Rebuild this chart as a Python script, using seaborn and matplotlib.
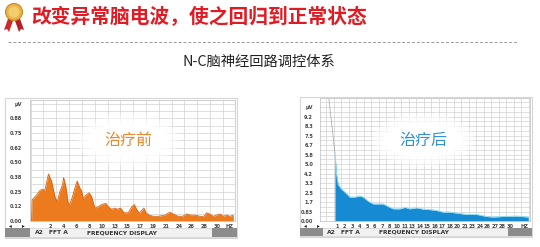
import numpy as np
import pandas as pd
import matplotlib
matplotlib.use("Agg")
import matplotlib.pyplot as plt
from matplotlib.patches import Ellipse, Rectangle, Polygon, Circle
import seaborn as sns

# ---------------- data ----------------
title = "改变异常脑电波，使之回归到正常状态"
subtitle = "N-C脑神经回路调控体系"
label_before = "治疗前"
label_after = "治疗后"
bar_texts = ["A2", "FFT A", "FREQUENCY DISPLAY"]

before_xlabels = ["2", "4", "6", "8", "10", "13", "15", "17", "19", "21", "24", "26", "28", "30", "HZ"]
before_ylabels = ["0.00", "0.12", "0.25", "0.38", "0.50", "0.62", "0.75", "0.88", "μV"]
after_xlabels = ["1", "2", "3", "4", "5", "6", "7", "8", "10", "11", "13", "14", "15", "16",
                 "17", "18", "20", "21", "23", "24", "26", "27", "28", "30"]
after_ylabels = ["0.00", "0.83", "1.7", "2.5", "3.3", "4.2", "5.0", "5.8", "6.7", "7.5", "8.3", "9.2", "μV"]

before_pos = [-0.48, -0.43, -0.35, -0.09, 0.17, 0.38, 0.56, 0.84, 1.08, 1.34,
              1.52, 1.73, 1.94, 2.02, 2.20, 2.38, 2.51, 2.72, 2.90, 3.08,
              3.29, 3.42, 3.55, 3.76, 4.02, 4.20, 4.46, 4.72, 4.98, 5.32,
              5.51, 5.77, 6.03, 6.21, 6.47, 6.73, 7.07, 7.33, 7.54, 7.72,
              7.93, 8.11, 8.29, 8.45, 8.71, 9.02, 9.41, 9.93, 10.32, 10.58,
              10.97, 11.31, 11.63, 11.94, 12.28, 12.67, 12.98, 13.19, 13.40, 13.71,
              13.97, 14.23, 14.49, 14.75, 15.01, 15.27]
before_uv = [0.00, 0.18, 0.19, 0.22, 0.26, 0.27, 0.26, 0.40, 0.34, 0.21,
             0.16, 0.25, 0.31, 0.37, 0.29, 0.15, 0.14, 0.21, 0.28, 0.34,
             0.28, 0.26, 0.19, 0.22, 0.24, 0.21, 0.11, 0.12, 0.14, 0.15,
             0.12, 0.10, 0.11, 0.10, 0.11, 0.07, 0.07, 0.12, 0.14, 0.10,
             0.065, 0.09, 0.11, 0.07, 0.05, 0.04, 0.04, 0.05, 0.075, 0.06,
             0.04, 0.04, 0.06, 0.05, 0.05, 0.04, 0.04, 0.07, 0.06, 0.04,
             0.05, 0.06, 0.04, 0.05, 0.04, 0.05]

after_pos = [-0.31, -0.09, 0.13, 0.58, 1.24, 1.69, 2.36, 3.02, 3.47, 4.13,
             4.80, 5.47, 6.13, 7.02, 7.47, 8.36, 9.02, 9.69, 10.58, 11.47,
             12.36, 13.24, 14.13, 15.02, 15.91, 17.24, 18.58, 19.91, 20.80, 22.13,
             23.91, 25.47]
after_uv = [6.0, 4.1, 3.2, 2.8, 2.4, 2.1, 2.1, 2.2, 2.1, 1.74,
            1.5, 1.5, 1.5, 1.2, 1.07, 1.07, 1.2, 1.07, 1.16, 1.04,
            1.0, 0.93, 0.78, 0.78, 0.7, 0.58, 0.58, 0.4, 0.35, 0.4,
            0.43, 0.35]
after_lead_pos = [-1.2, -0.31]
after_lead_uv = [11.2, 6.0]

# ---------------- style ----------------
sns.set_theme(style="white")
plt.rcParams["font.family"] = ["Noto Sans CJK SC", "DejaVu Sans"]

W, H = 540, 247
fig = plt.figure(figsize=(W / 100, H / 100), dpi=100)
fig.patch.set_facecolor("white")


def rect(x0, y0, x1, y1):
    return [x0 / W, 1 - y1 / H, (x1 - x0) / W, (y1 - y0) / H]


# background decoration layer (pixel coordinates)
deco = fig.add_axes([0, 0, 1, 1], zorder=0, label="deco")
deco.set_xlim(0, W)
deco.set_ylim(H, 0)
deco.axis("off")

# medal icon
deco.add_patch(Polygon([[9, 16], [14, 18], [9, 32], [7, 29], [4, 30]], closed=True,
                       facecolor="#cf2a2a", edgecolor="none"))
deco.add_patch(Polygon([[19, 16], [14, 18], [19, 32], [21, 29], [24, 30]], closed=True,
                       facecolor="#b81f22", edgecolor="none"))
deco.add_patch(Circle((14, 12), 8.5, facecolor="#e9b44c", edgecolor="#c98b22", lw=0.8))
deco.add_patch(Circle((14, 12), 5.5, facecolor="#f3cd6e", edgecolor="none"))

deco.text(31, 17, title, ha="left", va="center", fontsize=14.2, fontweight="bold",
          color="#e01b24")
deco.plot([8, 517], [42, 42], color="#9a9a9a", lw=0.7, ls=(0, (3, 2)))
deco.text(259, 62, subtitle, ha="center", va="center", fontsize=10.3, color="#222222")

# panel frames and bottom bars
for (x0, y0, x1, y1) in [(5, 98, 237, 238), (300, 97, 532, 237)]:
    deco.add_patch(Rectangle((x0, y0), x1 - x0, y1 - y0, facecolor="white",
                             edgecolor="#d6d6d6", lw=0.8))
bars = [(5, 228, 237, 237, 30, 212, 35), (300, 228, 532, 236, 323, 508, 327)]
for (x0, y0, x1, y1, lb, rb, tx) in bars:
    deco.add_patch(Rectangle((x0, y0), x1 - x0, y1 - y0, facecolor="#f1f1f1",
                             edgecolor="#cfcfcf", lw=0.5))
    deco.add_patch(Rectangle((x0, y0), lb - x0, y1 - y0, facecolor="#8c8c8c", edgecolor="none"))
    deco.add_patch(Rectangle((rb, y0), x1 - rb, y1 - y0, facecolor="#8c8c8c", edgecolor="none"))
    yc = (y0 + y1) / 2
    deco.text(tx, yc, bar_texts[0], ha="left", va="center", fontsize=4.3, fontweight="bold",
              color="#333333", family="DejaVu Sans")
    deco.text(tx + 14, yc, bar_texts[1], ha="left", va="center", fontsize=4.3,
              fontweight="bold", color="#333333", family="DejaVu Sans")
    deco.text(tx + 52, yc, bar_texts[2], ha="left", va="center", fontsize=4.3,
              fontweight="bold", color="#333333", family="DejaVu Sans")
    deco.text(x0 + 5, 226, "◂", ha="center", va="center", fontsize=4, color="#222222",
              family="DejaVu Sans")
    deco.text(x0 + 18, 226, "▸", ha="center", va="center", fontsize=4, color="#222222",
              family="DejaVu Sans")


def style_panel(ax, xlabels, xpos, ylabels, ypos, xminor, yminor, ypad):
    ax.set_facecolor("white")
    for s in ax.spines.values():
        s.set_color("#c8c8c8")
        s.set_linewidth(0.6)
    ax.set_xticks(xpos)
    ax.set_xticklabels(xlabels)
    ax.set_yticks(ypos)
    ax.set_yticklabels(ylabels)
    ax.set_xticks(xminor, minor=True)
    ax.set_yticks(yminor, minor=True)
    ax.grid(False)
    ax.grid(which="minor", axis="x", color="#d2d2d2", lw=0.5)
    ax.grid(which="both", axis="y", color="#d2d2d2", lw=0.5)
    ax.tick_params(which="both", length=0)
    ax.tick_params(axis="x", labelsize=3.6, colors="#444444", pad=2)
    ax.tick_params(axis="y", labelsize=3.6, colors="#444444", pad=ypad)
    for t in ax.get_xticklabels() + ax.get_yticklabels():
        t.set_fontweight("bold")
        t.set_family("DejaVu Sans")
    ax.set_xlabel("")
    ax.set_ylabel("")


# ---- left panel: before ----
axL = fig.add_axes(rect(30, 100, 235, 221), zorder=1, label="before")
dfb = pd.DataFrame({"pos": before_pos, "uv": before_uv})
sns.lineplot(data=dfb, x="pos", y="uv", ax=axL, color="#d7630f", lw=0.6, sort=False)
axL.fill_between(dfb["pos"], 0, dfb["uv"], color="#ec7b1d", lw=0)
axL.set_xlim(-0.6, 15.4)
axL.set_ylim(0, 1.03)
style_panel(axL, before_xlabels, list(range(1, len(before_xlabels) + 1)),
            before_ylabels, [0.125 * i for i in range(len(before_ylabels))],
            np.arange(-0.55, 15.4, 1.0), np.arange(0.0625, 1.03, 0.125), 5.6)

# ---- right panel: after ----
axR = fig.add_axes(rect(320, 98, 530, 221), zorder=1, label="after")
dfa = pd.DataFrame({"pos": after_pos, "uv": after_uv})
axR.fill_between(dfa["pos"], 0, dfa["uv"], color="#168bd3", lw=0)
sns.lineplot(data=dfa, x="pos", y="uv", ax=axR, color="#8fdcf2", lw=0.7, sort=False)
sns.lineplot(x=after_lead_pos, y=after_lead_uv, ax=axR, color="#9aa4aa", lw=0.5)
axR.set_xlim(-2.3, 25.7)
axR.set_ylim(0, 10.8)
after_xpos = list(range(len(after_xlabels))) + [25]
style_panel(axR, after_xlabels + ["HZ"], after_xpos,
            after_ylabels, [10 / 12 * i for i in range(len(after_ylabels))],
            np.arange(-1.5, 25.7, 1.0), np.arange(10 / 24, 10.8, 10 / 12), 5.0)

# ---- cloud labels (top layer) ----
top = fig.add_axes([0, 0, 1, 1], zorder=5, label="top")
top.set_xlim(0, W)
top.set_ylim(H, 0)
top.axis("off")
top.patch.set_alpha(0)
for (cx, cy, w, h, txt, col) in [(128, 140, 80, 34, label_before, "#e8892e"),
                                  (423, 140, 80, 34, label_after, "#2f92d2")]:
    for i in range(6, -1, -1):
        top.add_patch(Ellipse((cx, cy), w * (1 + 0.05 * i), h * (1 + 0.1 * i),
                              facecolor="white", edgecolor="none",
                              alpha=0.25 if i else 1.0))
    top.text(cx, cy, txt, ha="center", va="center", fontsize=11.5, color=col)

fig.savefig("out.png", dpi=100, facecolor="white")
